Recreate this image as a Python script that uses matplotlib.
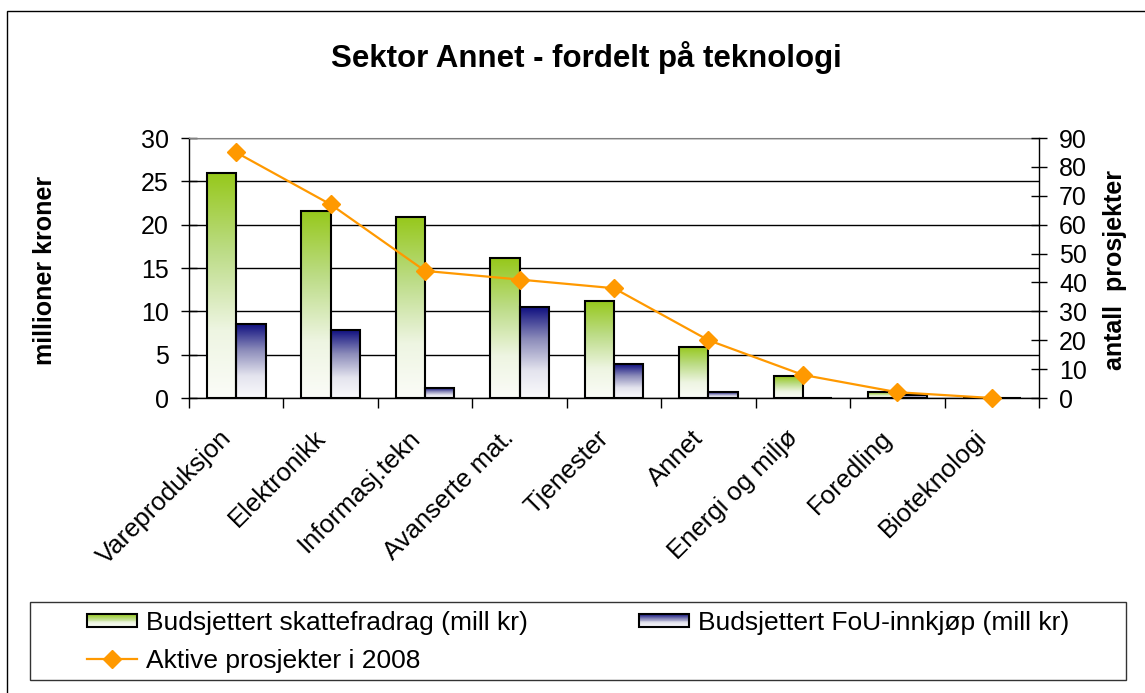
import numpy as np
import matplotlib
matplotlib.use("Agg")
from matplotlib import pyplot as plt
from matplotlib.colors import LinearSegmentedColormap
from matplotlib.patches import Rectangle
from matplotlib.lines import Line2D
from matplotlib.legend_handler import HandlerBase
from matplotlib.transforms import ScaledTranslation

plt.rcParams['font.family'] = ['Liberation Sans', 'DejaVu Sans']

categories = ["Vareproduksjon", "Elektronikk", "Informasj.tekn", "Avanserte mat.",
              "Tjenester", "Annet", "Energi og miljø", "Foredling", "Bioteknologi"]
skattefradrag = [26.0, 21.6, 20.9, 16.1, 11.2, 5.9, 2.5, 0.65, 0.0]
fou_innkjop = [8.5, 7.8, 1.1, 10.5, 3.9, 0.65, 0.0, 0.3, 0.0]
prosjekter = [85, 67, 44, 41, 38, 20, 8, 2, 0]

green_map = LinearSegmentedColormap.from_list(
    "green", [(0, "#fbfcf8"), (0.3, "#eef5e2"), (0.65, "#bcdc86"), (1, "#96c81a")])
navy_map = LinearSegmentedColormap.from_list(
    "navy", [(0, "#fafafc"), (0.3, "#e4e4ee"), (0.65, "#8c8cba"), (1, "#101080")])


class GradientHandler(HandlerBase):
    def __init__(self, cmap):
        super().__init__()
        self.cmap = cmap

    def create_artists(self, legend, orig_handle, xdescent, ydescent,
                       width, height, fontsize, trans):
        arts = []
        n = 14
        h = height * 0.75
        y0 = -ydescent + (height - h) / 2
        for i in range(n):
            r = Rectangle((-xdescent, y0 + i * h / n), width, h / n + 0.3,
                          facecolor=self.cmap((i + 0.5) / n), edgecolor='none',
                          transform=trans)
            arts.append(r)
        arts.append(Rectangle((-xdescent, y0), width, h, facecolor='none',
                              edgecolor='black', lw=1.5, transform=trans))
        return arts


def gradient_bars(ax, bars, cmap):
    grad = np.linspace(0, 1, 256).reshape(-1, 1)
    for b in bars:
        x0 = b.get_x()
        w = b.get_width()
        h = b.get_height()
        if h <= 0:
            continue
        ax.imshow(grad, cmap=cmap, extent=(x0, x0 + w, 0, h), aspect='auto',
                  origin='lower', zorder=2, interpolation='bilinear')


fig = plt.figure(figsize=(11.45, 6.93), dpi=100)
ax = fig.add_axes([189 / 1145, 1 - 398 / 693, 850 / 1145, 260 / 693])

x = np.arange(len(categories))
w = 0.31
bars1 = ax.bar(x - w / 2, skattefradrag, w, facecolor='none', edgecolor='black',
               lw=1.5, zorder=3)
bars2 = ax.bar(x + w / 2, fou_innkjop, w, facecolor='none', edgecolor='black',
               lw=1.5, zorder=3)
gradient_bars(ax, bars1, green_map)
gradient_bars(ax, bars2, navy_map)

ax.set_xlim(-0.5, len(categories) - 0.5)
ax.set_ylim(0, 30)
ax.set_yticks(range(0, 31, 5))
ax.tick_params(axis='y', direction='inout', length=11, width=1, labelsize=18, pad=9)
ax.set_xticks(x)
ax.set_xticklabels(categories, rotation=45, ha='right', va='center',
                   rotation_mode='anchor', fontsize=18.5)
ax.tick_params(axis='x', which='major', length=0, pad=26)
# nudge the slanted category names a little to the left
shift = ScaledTranslation(-9 / 100, 0, fig.dpi_scale_trans)
for lbl in ax.get_xticklabels():
    lbl.set_transform(lbl.get_transform() + shift)
ax.set_xticks(np.arange(-0.5, len(categories), 1), minor=True)
ax.tick_params(axis='x', which='minor', direction='out', length=7, width=1)
ax.yaxis.grid(True, color='black', lw=1)
ax.set_axisbelow(True)
ax.spines['top'].set_color('#808080')
ax.spines['right'].set_visible(False)
for s in ['left', 'bottom']:
    ax.spines[s].set_linewidth(1)

ax2 = ax.twinx()
ax2.plot(x, prosjekter, color='#ff9900', lw=1.6, marker='D', markersize=9,
         clip_on=False, zorder=5)
ax2.set_ylim(0, 90)
ax2.set_yticks(range(0, 91, 10))
ax2.tick_params(axis='y', direction='inout', length=11, width=1, labelsize=18, pad=9)
for s in ['top', 'left', 'bottom']:
    ax2.spines[s].set_visible(False)
ax2.spines['right'].set_linewidth(1)

fig.text(586 / 1145, 1 - 57 / 693, "Sektor Annet - fordelt på teknologi",
         fontsize=22.5, fontweight='bold', ha='center', va='center')
fig.text(45 / 1145, 1 - 270 / 693, "millioner kroner", rotation=90,
         fontsize=18, fontweight='bold', ha='center', va='center')
fig.text(1115 / 1145, 1 - 270 / 693, "antall  prosjekter", rotation=90,
         fontsize=18, fontweight='bold', ha='center', va='center')

h_green = Rectangle((0, 0), 1, 1)
h_navy = Rectangle((0, 0), 1, 1)
h_line = Line2D([], [], color='#ff9900', lw=1.6, marker='D', markersize=9)
fig.legend([h_green, h_line, h_navy],
           ["Budsjettert skattefradrag (mill kr)", "Aktive prosjekter i 2008",
            "Budsjettert FoU-innkjøp (mill kr)"],
           handler_map={h_green: GradientHandler(green_map),
                        h_navy: GradientHandler(navy_map)},
           ncol=2, loc='center', bbox_to_anchor=(578 / 1145, 1 - 642 / 693),
           frameon=False, fontsize=19, handlelength=1.9, handletextpad=0.35,
           columnspacing=4.2, labelspacing=0.55)

# legend frame and outer chart border
fig.patches.append(Rectangle((30 / 1145, 1 - 680 / 693), 1096 / 1145, 78 / 693,
                             transform=fig.transFigure, fill=False,
                             edgecolor='#333333', lw=1))
fig.patches.append(Rectangle((7 / 1145, -0.5), 2, 0.5 + 1 - 11 / 693,
                             transform=fig.transFigure, fill=False,
                             edgecolor='black', lw=1))

fig.savefig("out.png", dpi=100)
